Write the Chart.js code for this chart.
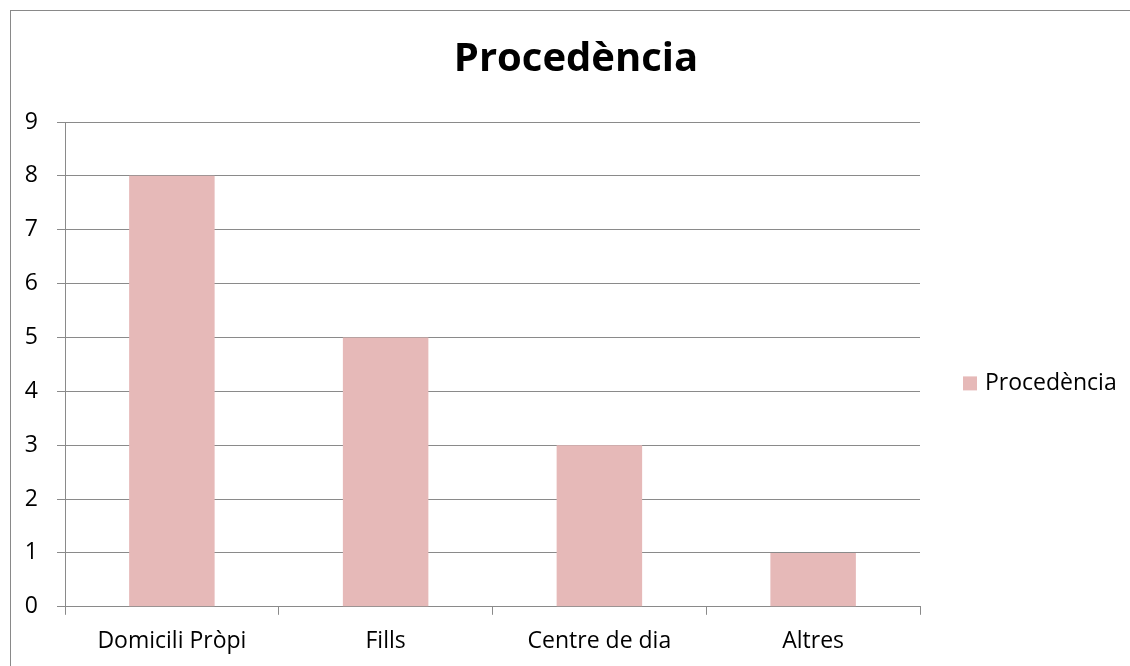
<!DOCTYPE html>
<html>
<head>
<meta charset="utf-8">
<script src="https://cdn.jsdelivr.net/npm/chart.js@4.4.1/dist/chart.umd.min.js"></script>
<style>
  html, body { margin: 0; padding: 0; background: #fff; overflow: hidden; }
  #marc { position: absolute; left: 10px; top: 10px; width: 1300px; height: 800px; border: 1px solid #898989; }
  #grafic { position: absolute; left: 0; top: 0; }
</style>
</head>
<body>
<div id="marc"></div>
<canvas id="grafic" width="1130" height="666"></canvas>
<script>
// Dades del gràfic
const categories = ['Domicili Pròpi', 'Fills', 'Centre de dia', 'Altres'];
const valors = [8, 5, 3, 1];
const titol = 'Procedència';
const etiquetaSerie = 'Procedència';
const yMin = 0;
const yMax = 9;
const yPas = 1;

const colorBarra = '#E6B9B8';
const colorLinia = '#8a8a8a';
const font = 'Open Sans';

// Excel posa el títol centrat a tot el marc i la llegenda a la dreta
const estilExcel = {
    id: 'estilExcel',
    afterLayout(chart, args, opts) {
        const t = chart.titleBlock;
        if (t) {
            t.left += opts.titolDesplacament;
            t.right += opts.titolDesplacament;
        }
    },
    afterDraw(chart, args, opts) {
        const { ctx, chartArea } = chart;
        const ds = chart.data.datasets[0];
        const x = chartArea.right + opts.separacio;
        const y = (chartArea.top + chartArea.bottom) / 2 + opts.desplacamentY;
        ctx.save();
        ctx.fillStyle = ds.backgroundColor;
        ctx.fillRect(x, y - 7, 14, 14);
        ctx.fillStyle = '#000';
        ctx.font = '23px "' + font + '"';
        ctx.textBaseline = 'middle';
        ctx.textAlign = 'left';
        ctx.fillText(ds.label, x + 22, y);
        ctx.restore();
    }
};

const ctx = document.getElementById('grafic').getContext('2d');

new Chart(ctx, {
    type: 'bar',
    data: {
        labels: categories,
        datasets: [{
            label: etiquetaSerie,
            data: valors,
            backgroundColor: colorBarra,
            borderWidth: 0,
            barPercentage: 0.4,
            categoryPercentage: 1.0
        }]
    },
    options: {
        responsive: false,
        animation: false,
        devicePixelRatio: 1,
        layout: {
            padding: { left: 10, right: 210, top: 0, bottom: -2.8 }
        },
        plugins: {
            legend: { display: false },
            tooltip: { enabled: false },
            title: {
                display: true,
                text: titol,
                color: '#000',
                font: { family: font, size: 40, weight: 'bold' },
                padding: { top: 36, bottom: 38 }
            },
            estilExcel: {
                titolDesplacament: 111,
                separacio: 43,
                desplacamentY: 19
            }
        },
        scales: {
            x: {
                grid: {
                    display: true,
                    drawOnChartArea: false,
                    drawTicks: true,
                    tickLength: 8,
                    color: colorLinia,
                    offset: true
                },
                border: { color: colorLinia, width: 1 },
                ticks: {
                    color: '#000',
                    font: { family: font, size: 23 },
                    padding: 13.2,
                    maxRotation: 0
                }
            },
            y: {
                min: yMin,
                max: yMax,
                afterFit(scale) { scale.width = 55; },
                grid: {
                    color: colorLinia,
                    tickLength: 8
                },
                border: { color: colorLinia, width: 1 },
                ticks: {
                    stepSize: yPas,
                    color: '#000',
                    font: { family: font, size: 23 },
                    padding: 19
                }
            }
        }
    },
    plugins: [estilExcel]
});
</script>
</body>
</html>
